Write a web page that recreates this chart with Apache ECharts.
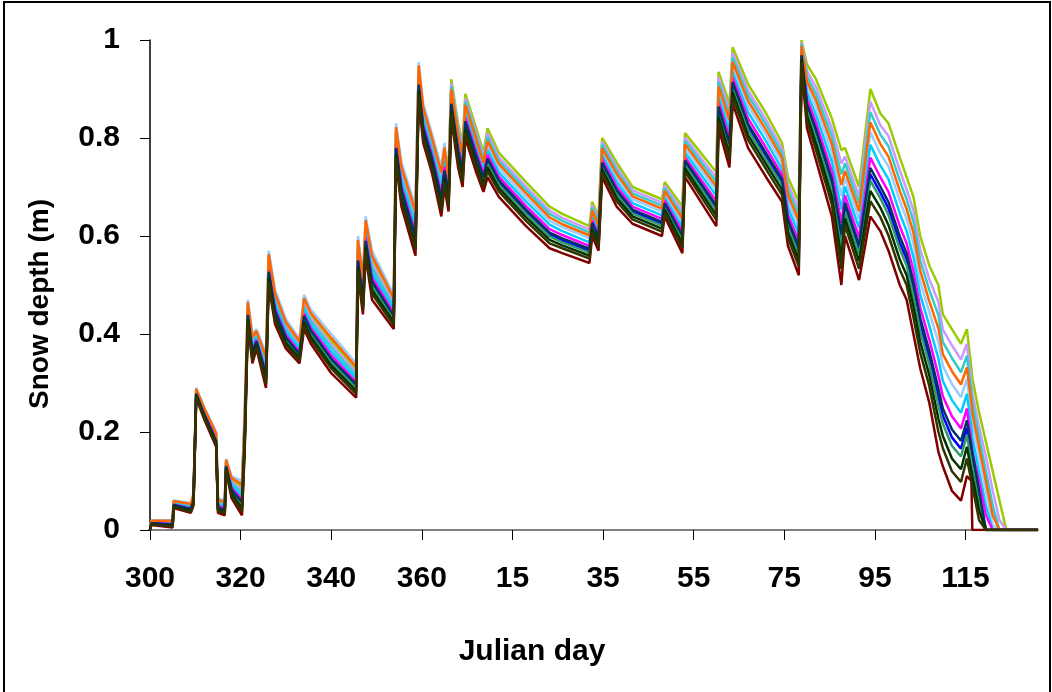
<!DOCTYPE html>
<html>
<head>
<meta charset="utf-8">
<script src="https://cdn.jsdelivr.net/npm/echarts@6/dist/echarts.min.js"></script>
<style>
  html, body { margin: 0; padding: 0; background: #fff; }
  #chart { width: 1052px; height: 692px; }
</style>
</head>
<body>
<div id="chart"></div>
<script>
// tick labels (julian day), one every 20 days from day 300
var dayTicks = ['300', '320', '340', '360', '15', '35', '55', '75', '95', '115'];

// days after day 300
var days = [
  0, 0.3, 5.0, 5.2, 9.0, 9.6, 10.2, 12.0, 14.6, 15.0,
  16.5, 16.8, 18.0, 20.3, 20.9, 21.6, 22.6, 23.5, 25.6, 26.2,
  27.6, 30.0, 33.0, 34.0, 35.5, 40.0, 45.5, 45.9, 47.0, 47.6,
  49.0, 53.8, 54.3, 55.5, 58.6, 59.3, 60.3, 62.2, 64.3, 65.0,
  65.9, 66.5, 68.0, 69.0, 69.6, 72.0, 73.6, 74.5, 77.0, 83.0,
  88.2, 91.0, 97.0, 97.6, 99.0, 99.8, 103.0, 106.5, 113.0, 113.6,
  117.5, 118.1, 125.0, 125.5, 127.9, 128.6, 132.0, 136.0, 139.5, 140.8,
  143.2, 143.8, 145.0, 147.0, 150.5, 152.6, 153.4, 156.5, 159.0, 161.2,
  163.0, 165.5, 167.0, 168.5, 170.0, 172.0, 174.0, 175.0, 177.0, 179.0,
  180.3, 181.3, 181.5, 183.0, 184.5, 186.0, 187.5, 189.0, 196
];

// snow depth (m), one list per run
var yellowGreen = [
  0, .018, .017, .057, .051, .071, .286, .246, .195, .06,
  .055, .141, .102, .087, .226, .461, .389, .403, .347, .557,
  .477, .419, .381, .467, .437, .386, .327, .586, .506, .626,
  .552, .467, .816, .734, .642, .942, .856, .796, .722, .774,
  .74, .92, .83, .79, .89, .82, .77, .82, .77, .71,
  .66, .645, .62, .67, .64, .8, .75, .7, .675, .71,
  .66, .81, .73, .935, .87, .985, .91, .85, .79, .72,
  .67, 1, .95, .92, .84, .775, .78, .7, .9, .85,
  .83, .76, .72, .68, .6, .54, .5, .44, .41, .38,
  .41, .33, .31, .24, .18, .12, .06, 0, 0
];
var lavender = [
  0, .017, .016, .056, .05, .069, .285, .244, .192, .057,
  .052, .139, .098, .082, .219, .457, .384, .4, .342, .552,
  .472, .414, .377, .462, .432, .379, .322, .579, .499, .619,
  .544, .462, .809, .727, .634, .936, .849, .789, .714, .767,
  .731, .912, .821, .781, .881, .811, .762, .81, .761, .701,
  .652, .637, .613, .663, .633, .792, .741, .693, .668, .703,
  .651, .801, .719, .924, .857, .974, .897, .837, .778, .706,
  .655, .995, .937, .904, .82, .748, .762, .681, .874, .826,
  .804, .734, .695, .652, .573, .512, .466, .409, .377, .348,
  .38, .30, .28, .21, .15, .08, .02, 0, 0
];
var turquoise = [
  0, .017, .015, .055, .048, .067, .283, .242, .19, .055,
  .05, .137, .095, .076, .213, .453, .38, .396, .336, .546,
  .466, .41, .373, .456, .426, .373, .316, .573, .493, .613,
  .536, .456, .803, .719, .626, .93, .843, .783, .706, .759,
  .724, .906, .814, .774, .874, .804, .756, .802, .754, .694,
  .645, .631, .607, .657, .627, .786, .734, .687, .662, .697,
  .643, .794, .71, .914, .847, .964, .887, .827, .768, .695,
  .643, .991, .927, .89, .804, .726, .748, .666, .853, .807,
  .783, .713, .675, .63, .551, .49, .439, .384, .351, .322,
  .356, .28, .26, .19, .12, .05, 0, 0, 0
];
var lightBlue = [
  0, .02, .02, .06, .055, .075, .29, .25, .2, .065,
  .06, .145, .11, .1, .24, .47, .4, .41, .36, .57,
  .49, .43, .39, .48, .45, .4, .34, .6, .52, .64,
  .57, .48, .83, .75, .66, .955, .87, .81, .74, .79,
  .709, .893, .799, .759, .859, .789, .743, .786, .739, .679,
  .631, .618, .595, .646, .616, .773, .719, .675, .65, .686,
  .628, .779, .693, .896, .826, .946, .866, .806, .749, .672,
  .619, .983, .906, .864, .772, .682, .719, .635, .812, .768,
  .742, .672, .635, .585, .508, .445, .384, .335, .298, .271,
  .308, .24, .22, .15, .08, .01, 0, 0, 0
];
var orange = [
  0, .019, .019, .059, .053, .073, .288, .248, .197, .062,
  .057, .143, .106, .093, .232, .465, .394, .406, .353, .563,
  .483, .424, .385, .473, .443, .392, .333, .592, .512, .632,
  .56, .473, .822, .741, .65, .948, .862, .802, .73, .781,
  .717, .899, .807, .767, .867, .797, .749, .794, .747, .687,
  .638, .624, .601, .652, .622, .779, .727, .681, .656, .692,
  .635, .787, .701, .905, .836, .955, .876, .816, .759, .684,
  .631, .987, .916, .877, .788, .704, .733, .651, .832, .788,
  .762, .692, .655, .607, .53, .467, .412, .359, .324, .297,
  .332, .26, .24, .17, .10, .03, 0, 0, 0
];
var cyan = [
  0, .016, .013, .053, .046, .064, .281, .239, .187, .052,
  .047, .134, .09, .069, .205, .448, .374, .392, .329, .539,
  .459, .404, .368, .449, .419, .365, .309, .565, .485, .605,
  .526, .449, .795, .71, .616, .922, .835, .775, .696, .75,
  .70, .885, .79, .75, .85, .78, .735, .776, .73, .67,
  .623, .61, .587, .639, .609, .765, .71, .667, .642, .679,
  .618, .77, .682, .884, .813, .934, .853, .793, .737, .658,
  .604, .978, .893, .847, .752, .654, .701, .616, .786, .744,
  .716, .646, .61, .557, .481, .417, .35, .304, .265, .239,
  .278, .21, .19, .12, .05, 0, 0, 0, 0
];
var magenta = [
  0, .015, .012, .052, .044, .062, .279, .237, .184, .049,
  .044, .132, .086, .062, .197, .443, .368, .388, .322, .532,
  .452, .398, .363, .442, .412, .357, .302, .557, .477, .597,
  .516, .442, .787, .701, .606, .915, .827, .767, .686, .741,
  .691, .877, .781, .741, .841, .771, .727, .766, .721, .661,
  .614, .602, .58, .632, .602, .757, .701, .66, .635, .672,
  .609, .761, .671, .873, .80, .923, .84, .78, .725, .644,
  .589, .973, .88, .831, .732, .627, .683, .597, .76, .72,
  .69, .62, .585, .529, .454, .389, .316, .273, .232, .207,
  .248, .18, .16, .10, .03, 0, 0, 0, 0
];
var navy = [
  0, .014, .011, .051, .043, .06, .278, .235, .181, .046,
  .041, .13, .082, .057, .19, .439, .363, .385, .317, .527,
  .447, .393, .359, .437, .407, .35, .297, .55, .47, .59,
  .508, .437, .78, .694, .598, .909, .82, .76, .678, .734,
  .684, .87, .774, .734, .834, .764, .72, .758, .714, .654,
  .607, .595, .574, .627, .597, .75, .694, .654, .629, .667,
  .601, .754, .662, .864, .789, .914, .829, .769, .716, .633,
  .577, .969, .869, .818, .716, .605, .668, .582, .739, .701,
  .669, .599, .565, .506, .433, .366, .289, .248, .205, .182,
  .224, .17, .16, .08, 0, 0, 0, 0, 0
];
var blue = [
  0, .014, .01, .05, .042, .059, .277, .234, .18, .045,
  .04, .129, .08, .054, .186, .437, .36, .383, .314, .524,
  .444, .39, .357, .434, .404, .346, .294, .546, .466, .586,
  .503, .434, .776, .69, .593, .905, .816, .756, .673, .73,
  .68, .866, .77, .73, .83, .76, .716, .753, .71, .65,
  .603, .591, .57, .624, .594, .746, .69, .65, .625, .664,
  .597, .75, .657, .858, .783, .908, .823, .763, .71, .626,
  .57, .967, .863, .81, .706, .591, .659, .573, .726, .689,
  .656, .586, .553, .492, .42, .352, .272, .233, .189, .166,
  .209, .155, .145, .07, 0, 0, 0, 0, 0
];
var seaGreen = [
  0, .013, .009, .049, .041, .057, .276, .232, .178, .043,
  .038, .127, .078, .05, .182, .434, .357, .381, .31, .52,
  .44, .387, .354, .43, .40, .342, .29, .542, .462, .582,
  .498, .43, .772, .685, .588, .901, .812, .752, .668, .725,
  .675, .862, .765, .725, .825, .755, .712, .748, .705, .645,
  .599, .587, .566, .62, .59, .742, .685, .646, .621, .66,
  .592, .745, .651, .852, .776, .902, .816, .756, .704, .619,
  .562, .964, .856, .801, .696, .577, .65, .563, .713, .677,
  .643, .573, .54, .478, .406, .338, .255, .217, .172, .15,
  .194, .14, .13, .06, 0, 0, 0, 0, 0
];
var darkGreen = [
  0, .012, .008, .048, .039, .055, .274, .23, .176, .041,
  .036, .125, .074, .044, .176, .43, .352, .378, .304, .514,
  .434, .382, .35, .424, .394, .336, .284, .536, .456, .576,
  .49, .424, .766, .678, .58, .895, .806, .746, .66, .718,
  .668, .856, .758, .718, .818, .748, .706, .74, .698, .638,
  .592, .581, .56, .614, .584, .736, .678, .64, .615, .654,
  .584, .738, .642, .843, .766, .893, .806, .746, .694, .608,
  .55, .96, .846, .788, .68, .555, .636, .548, .692, .658,
  .622, .552, .52, .456, .384, .316, .228, .192, .146, .124,
  .17, .12, .11, .04, 0, 0, 0, 0, 0
];
var olive = [
  0, .011, .007, .047, .037, .053, .272, .228, .174, .039,
  .034, .123, .07, .038, .17, .426, .347, .375, .298, .508,
  .428, .377, .346, .418, .388, .33, .278, .53, .45, .57,
  .482, .418, .76, .671, .572, .889, .80, .74, .652, .711,
  .661, .85, .751, .711, .811, .741, .70, .732, .691, .631,
  .585, .575, .554, .608, .578, .73, .671, .634, .609, .648,
  .576, .731, .633, .834, .756, .884, .796, .736, .684, .597,
  .538, .956, .836, .775, .664, .533, .622, .533, .671, .639,
  .601, .531, .50, .434, .362, .294, .201, .167, .12, .098,
  .146, .10, .09, .02, 0, 0, 0, 0, 0
];
var darkRed = [
  0, .01, .005, .045, .035, .05, .27, .225, .17, .035,
  .03, .12, .065, .03, .16, .42, .34, .37, .29, .50,
  .42, .37, .34, .41, .38, .32, .27, .52, .44, .56,
  .47, .41, .75, .66, .56, .88, .79, .73, .64, .70,
  .65, .84, .74, .70, .80, .73, .69, .72, .68, .62,
  .575, .565, .545, .60, .57, .72, .66, .625, .60, .64,
  .565, .72, .62, .82, .74, .87, .78, .72, .67, .58,
  .52, .95, .82, .755, .64, .50, .60, .51, .64, .61,
  .57, .50, .47, .40, .33, .26, .16, .13, .08, .06,
  .11, .10, 0, 0, 0, 0, 0, 0, 0
];

var runs = [
  { name: 'run 1', color: '#99cc00', values: yellowGreen },
  { name: 'run 2', color: '#cc99ff', values: lavender },
  { name: 'run 3', color: '#33cccc', values: turquoise },
  { name: 'run 4', color: '#99ccff', values: lightBlue },
  { name: 'run 5', color: '#00ccff', values: cyan },
  { name: 'run 6', color: '#ff00ff', values: magenta },
  { name: 'run 7', color: '#0000ff', values: blue },
  { name: 'run 8', color: '#ff6600', values: orange },
  { name: 'run 9', color: '#339966', values: seaGreen },
  { name: 'run 10', color: '#003366', values: navy },
  { name: 'run 11', color: '#003300', values: darkGreen },
  { name: 'run 12', color: '#800000', values: darkRed },
  { name: 'run 13', color: '#333300', values: olive }
];

var font = 'Liberation Sans, Arial, sans-serif';
var tickDays = dayTicks.map(function (t, i) { return i * 20; });

var series = runs.map(function (r) {
  return {
    name: r.name,
    type: 'line',
    showSymbol: false,
    silent: true,
    lineStyle: { color: r.color, width: 2.5 },
    data: days.map(function (d, i) { return [d, r.values[i]]; })
  };
});

var option = {
  animation: false,
  backgroundColor: '#fff',
  grid: { left: 150, right: 14, top: 40, bottom: 162 },
  xAxis: {
    type: 'value',
    min: 0,
    max: 196,
    interval: 20,
    axisLine: { lineStyle: { color: '#808080', width: 2 } },
    axisTick: { customValues: tickDays, length: 10, lineStyle: { color: '#000', width: 1 } },
    axisLabel: {
      customValues: tickDays,
      formatter: function (v) { return dayTicks[Math.round(v / 20)]; },
      fontSize: 30, fontWeight: 'bold', fontFamily: font, color: '#000', margin: 34
    },
    splitLine: { show: false }
  },
  yAxis: {
    type: 'value',
    min: 0,
    max: 1,
    interval: 0.2,
    axisLine: { show: true, lineStyle: { color: '#000', width: 1.5 } },
    axisTick: { show: true, length: 10, lineStyle: { color: '#000', width: 1 } },
    axisLabel: { fontSize: 30, fontWeight: 'bold', fontFamily: font, color: '#000', margin: 30 },
    splitLine: { show: false }
  },
  graphic: [
    {
      type: 'rect',
      shape: { x: 4, y: 2, width: 1046, height: 720 },
      style: { fill: 'none', stroke: '#000', lineWidth: 2 }
    },
    {
      type: 'text',
      x: 532, y: 652,
      style: { text: 'Julian day', fontSize: 30, fontWeight: 'bold', fontFamily: font, fill: '#000', align: 'center', verticalAlign: 'middle' }
    },
    {
      type: 'text',
      x: 40, y: 304,
      rotation: Math.PI / 2,
      style: { text: 'Snow depth (m)', fontSize: 28, fontWeight: 'bold', fontFamily: font, fill: '#000', align: 'center', verticalAlign: 'middle' }
    }
  ],
  series: series
};

var myChart = echarts.init(document.getElementById('chart'));
myChart.setOption(option);
</script>
</body>
</html>
